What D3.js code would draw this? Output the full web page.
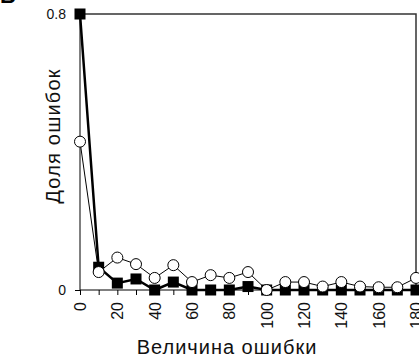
<!DOCTYPE html>
<html>
<head>
<meta charset="utf-8">
<script src="https://cdn.jsdelivr.net/npm/d3@7"></script>
<style>
  body { margin: 0; background: #fff; }
  text { font-family: "Liberation Sans", Arial, sans-serif; }
</style>
</head>
<body>
<script>
var w = 419;
var h = 358;

// error size (x), and share of errors for the two series
var errSize = [0, 10, 20, 30, 40, 50, 60, 70, 80, 90, 100, 110, 120, 130, 140, 150, 160, 170, 180];
var squares = [0.8, 0.066, 0.02, 0.032, 0.0, 0.023, 0.0, 0.0, 0.0, 0.01, 0.0, 0.0, 0.0, 0.0, 0.0, 0.0, 0.0, 0.0, 0.0];
var circles = [0.43, 0.052, 0.094, 0.075, 0.035, 0.072, 0.023, 0.043, 0.035, 0.052, 0.0, 0.023, 0.023, 0.01, 0.023, 0.01, 0.008, 0.008, 0.035];
var xTicks = [0, 20, 40, 60, 80, 100, 120, 140, 160, 180];
var yTicks = [0, 0.8];

var xScale = d3.scaleLinear().domain([0, 180]).range([80, 416]);
var yScale = d3.scaleLinear().domain([0, 0.8]).range([290, 14]);

var svg = d3.select("body").append("svg")
    .attr("width", w)
    .attr("height", h);

// panel letter, cut off at the top like in the source
svg.append("text")
   .attr("x", 0)
   .attr("y", 3)
   .attr("font-size", "22px")
   .attr("font-weight", "bold")
   .text("Б");

// frame: top and right
svg.append("path")
   .attr("d", "M" + xScale(0) + "," + yScale(0.8) + "H" + xScale(180) + "V" + yScale(0))
   .attr("fill", "none")
   .attr("stroke", "#333")
   .attr("stroke-width", 1.5);

// x axis
var xAxis = d3.axisBottom(xScale)
    .tickValues(d3.range(0, 181, 10))
    .tickSize(5)
    .tickFormat(function(d) { return xTicks.indexOf(d) >= 0 ? d : ""; });

var gx = svg.append("g")
   .attr("transform", "translate(0," + yScale(0) + ")")
   .call(xAxis);
gx.select(".domain").attr("d", "M" + xScale(0) + ",0H" + xScale(180)).attr("stroke", "#000");
gx.selectAll("line").attr("stroke", "#000");
gx.selectAll("text")
  .attr("font-size", "16px")
  .attr("fill", "#111")
  .attr("text-anchor", "end")
  .attr("transform", "rotate(-90)")
  .attr("x", -12)
  .attr("y", 0)
  .attr("dy", "0.35em");

// y axis
var yAxis = d3.axisLeft(yScale)
    .tickValues(yTicks)
    .tickSize(5)
    .tickFormat(function(d) { return d === 0 ? "0" : d3.format(".1f")(d); });

var gy = svg.append("g")
   .attr("transform", "translate(" + xScale(0) + ",0)")
   .call(yAxis);
gy.select(".domain").attr("d", "M0," + yScale(0) + "V" + yScale(0.8)).attr("stroke", "#000");
gy.selectAll("line").attr("stroke", "#000");
gy.selectAll("text")
  .attr("font-size", "14px")
  .attr("fill", "#111")
  .attr("x", -14);

// lines
var line = d3.line()
    .x(function(d, i) { return xScale(errSize[i]); })
    .y(function(d) { return yScale(d); });

svg.append("path")
   .datum(circles)
   .attr("d", line)
   .attr("fill", "none")
   .attr("stroke", "#000")
   .attr("stroke-width", 1);

svg.append("path")
   .datum(squares)
   .attr("d", line)
   .attr("fill", "none")
   .attr("stroke", "#000")
   .attr("stroke-width", 2.5);

// markers
var sq = 11;
svg.selectAll("rect.sq")
   .data(squares)
   .enter()
   .append("rect")
   .attr("class", "sq")
   .attr("x", function(d, i) { return xScale(errSize[i]) - sq / 2; })
   .attr("y", function(d) { return yScale(d) - sq / 2; })
   .attr("width", sq)
   .attr("height", sq)
   .attr("fill", "#000");

svg.selectAll("circle")
   .data(circles)
   .enter()
   .append("circle")
   .attr("cx", function(d, i) { return xScale(errSize[i]); })
   .attr("cy", function(d) { return yScale(d); })
   .attr("r", 5.5)
   .attr("fill", "#fff")
   .attr("stroke", "#000")
   .attr("stroke-width", 1);

// axis titles
svg.append("text")
   .attr("text-anchor", "middle")
   .attr("x", 227)
   .attr("y", 354)
   .attr("font-size", "20px")
   .attr("letter-spacing", "1px")
   .attr("fill", "#111")
   .text("Величина ошибки");

svg.append("text")
   .attr("text-anchor", "middle")
   .attr("transform", "rotate(-90)")
   .attr("x", -136)
   .attr("y", 60)
   .attr("font-size", "20px")
   .attr("letter-spacing", "1.2px")
   .attr("fill", "#111")
   .text("Доля ошибок");
</script>
</body>
</html>
